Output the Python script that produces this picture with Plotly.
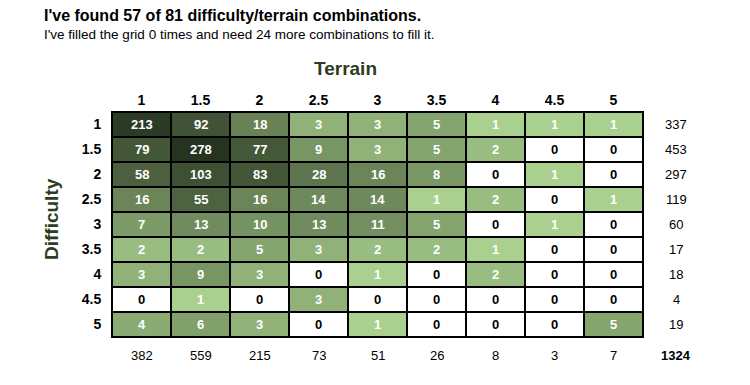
import math
import plotly.graph_objects as go

terrain = ["1", "1.5", "2", "2.5", "3", "3.5", "4", "4.5", "5"]
difficulty = ["1", "1.5", "2", "2.5", "3", "3.5", "4", "4.5", "5"]

counts = [
    [213, 92, 18, 3, 3, 5, 1, 1, 1],
    [79, 278, 77, 9, 3, 5, 2, 0, 0],
    [58, 103, 83, 28, 16, 8, 0, 1, 0],
    [16, 55, 16, 14, 14, 1, 2, 0, 1],
    [7, 13, 10, 13, 11, 5, 0, 1, 0],
    [2, 2, 5, 3, 2, 2, 1, 0, 0],
    [3, 9, 3, 0, 1, 0, 2, 0, 0],
    [0, 1, 0, 3, 0, 0, 0, 0, 0],
    [4, 6, 3, 0, 1, 0, 0, 0, 5],
]
row_totals = [337, 453, 297, 119, 60, 17, 18, 4, 19]
col_totals = [382, 559, 215, 73, 51, 26, 8, 3, 7]
grand_total = 1324

title = "I've found 57 of 81 difficulty/terrain combinations."
subtitle = "I've filled the grid 0 times and need 24 more combinations to fill it."

FONT = "Arial, Liberation Sans, sans-serif"
DARK = "#2e3d22"

OFF = 8  # page body margin
W, H = 750, 385
# target grid box on the page: x 112..643, y 112..337
ML, MT = 112 - OFF, 112 - OFF
MR = W - (643 - OFF)
MB = H - (337 - OFF)
PW, PH = W - ML - MR, H - MT - MB


def px_x(p):
    return (p - OFF - ML) / PW


def px_y(p):
    return (H - MB - (p - OFF)) / PH


nx = len(terrain)
ny = len(difficulty)
xs = list(range(nx))
ys = list(range(ny))

zlog = [[math.log(v) if v > 0 else None for v in row] for row in counts]
zmax = math.log(max(max(r) for r in counts))

fig = go.Figure()
fig.add_trace(go.Heatmap(
    x=xs, y=ys, z=[[0] * nx for _ in ys],
    colorscale=[[0, "white"], [1, "white"]], showscale=False,
    xgap=2, ygap=2, hoverinfo="skip"))
fig.add_trace(go.Heatmap(
    x=xs, y=ys, z=zlog, zmin=0, zmax=zmax,
    colorscale=[[0, "#a9d08e"], [0.5, "#6a8458"], [1, "#263320"]],
    showscale=False, xgap=2, ygap=2,
    customdata=counts, hovertemplate="%{customdata}<extra></extra>"))

annotations = []
for j, row in enumerate(counts):
    for i, v in enumerate(row):
        annotations.append(dict(
            x=i, y=j, xref="x", yref="y", text=f"<b>{v}</b>", showarrow=False,
            xanchor="center", yanchor="middle",
            font=dict(family=FONT, size=13, color="white" if v > 0 else "black")))


def col_paper(i):
    return (i + 0.5) / nx


def row_paper(j):
    return 1 - (j + 0.5) / ny


tot_x = col_paper(nx - 1 + 1.06)
tot_y = row_paper(ny - 1 + 1.22)
for j, t in enumerate(row_totals):
    annotations.append(dict(x=tot_x, y=row_paper(j), xref="paper", yref="paper", text=str(t),
                            xanchor="center", yanchor="middle", showarrow=False,
                            font=dict(family=FONT, size=13, color="black")))
for i, t in enumerate(col_totals):
    annotations.append(dict(x=col_paper(i), y=tot_y, xref="paper", yref="paper", text=str(t),
                            xanchor="center", yanchor="middle", showarrow=False,
                            font=dict(family=FONT, size=13, color="black")))
annotations.append(dict(x=tot_x, y=tot_y, xref="paper", yref="paper",
                        text=f"<b>{grand_total}</b>", showarrow=False,
                        xanchor="center", yanchor="middle",
                        font=dict(family=FONT, size=13, color="black")))

annotations.append(dict(x=px_x(345), y=px_y(68), xref="paper", yref="paper",
                        xanchor="center", yanchor="middle",
                        text="<b>Terrain</b>", showarrow=False,
                        font=dict(family=FONT, size=19, color=DARK)))
annotations.append(dict(x=px_x(51), y=px_y(219), xref="paper", yref="paper",
                        xanchor="center", yanchor="middle",
                        text="<b>Difficulty</b>", textangle=-90, showarrow=False,
                        font=dict(family=FONT, size=19, color=DARK)))
annotations.append(dict(x=px_x(42), y=px_y(15), xref="paper", yref="paper",
                        xanchor="left", yanchor="middle", text=f"<b>{title}</b>", showarrow=False,
                        font=dict(family=FONT, size=16, color="black")))
annotations.append(dict(x=px_x(42), y=px_y(34), xref="paper", yref="paper",
                        xanchor="left", yanchor="middle", text=subtitle, showarrow=False,
                        font=dict(family=FONT, size=13.5, color="black")))

fig.update_layout(
    width=W, height=H, autosize=False,
    margin=dict(l=ML, r=MR, t=MT, b=MB, autoexpand=False),
    plot_bgcolor="black", paper_bgcolor="white",
    font=dict(family=FONT, color="black"),
    xaxis=dict(side="top", tickmode="array", tickvals=xs,
               ticktext=[f"<b>{t}</b>" for t in terrain], tickfont=dict(size=14, family=FONT),
               range=[-0.5, nx - 0.5], showgrid=False, zeroline=False, ticks="",
               showline=True, linecolor="black", linewidth=1, mirror=True,
               automargin=False),
    yaxis=dict(tickmode="array", tickvals=ys, autorange=False,
               ticktext=[f"<b>{t}</b>" for t in difficulty], tickfont=dict(size=14, family=FONT),
               range=[ny - 0.5, -0.5], showgrid=False, zeroline=False, ticks="",
               showline=True, linecolor="black", linewidth=1, mirror=True,
               ticklabelstandoff=7, automargin=False),
    annotations=annotations,
)

fig.write_html("out.html")
